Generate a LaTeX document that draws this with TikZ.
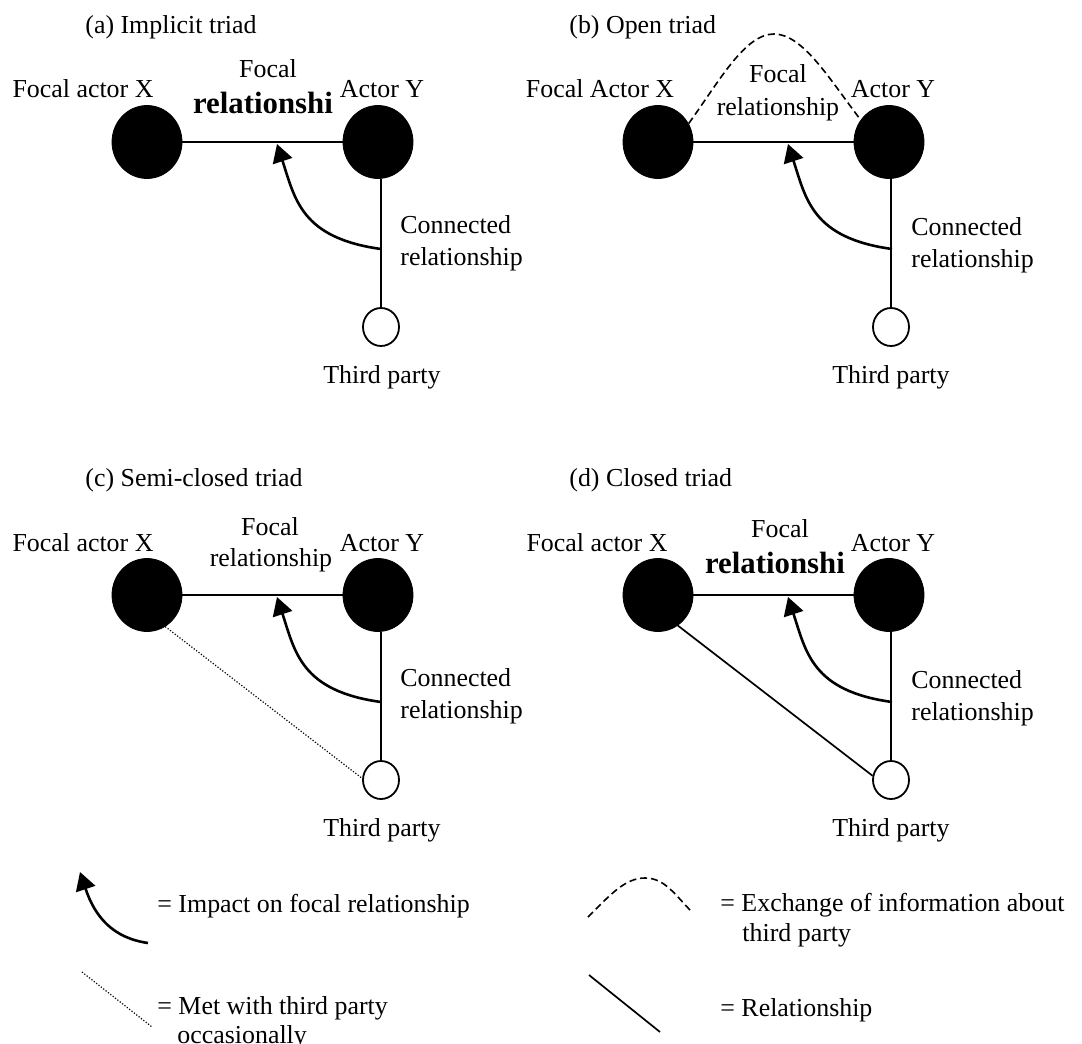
\documentclass[tikz,border=0pt]{standalone}
\usepackage{fontspec}
\setmainfont{Liberation Serif}
\usetikzlibrary{arrows.meta,shapes.geometric}

\begin{document}
\begin{tikzpicture}[x=0.5pt,y=-0.5pt,
  actor/.style={ellipse,fill=black,draw=black,minimum width=35pt,minimum height=36.5pt,inner sep=0pt},
  party/.style={ellipse,fill=white,draw=black,line width=0.9pt,minimum width=18pt,minimum height=19pt,inner sep=0pt},
  lbl/.style={font=\fontsize{12.95}{15}\selectfont,inner sep=0pt,anchor=base},
  lblw/.style={lbl,anchor=base west},
  boldlbl/.style={font=\fontsize{15.4}{18}\selectfont\bfseries,inner sep=0pt,anchor=base},
  tie/.style={line width=0.85pt},
  impact/.style={line width=1.3pt,-{Triangle[length=9pt,width=10pt]}},
  info/.style={line width=0.8pt,dash pattern=on 3.5pt off 2pt},
  met/.style={line width=0.6pt,dash pattern=on 0.6pt off 0.9pt},
]
\useasboundingbox (0,0) rectangle (1082,1044);
\clip (0,0) rectangle (1082,1044);

% ---------- (a) Implicit triad ----------
\node[lblw] (ta) at (85,33) {(a) Implicit triad};
\node[actor] (aX) at (147,142) {};
\node[actor] (aY) at (378,142) {};
\node[party] (aT) at (381,327) {};
\draw[tie] (aX) -- (aY);
\draw[tie] (aT.north) -- (aT.north |- aY.south);
\coordinate (aS) at (381,249);
\coordinate (aA) at (277,144);
\draw[impact] (aS) .. controls +(-80,-11) and +(18,55) .. (aA);
\node[lbl] (aXl) at (83,97) {Focal actor X};
\node[lbl] (aYl) at (382,97) {Actor Y};
\node[lbl] (aF1) at (268,77) {Focal};
\node[boldlbl] (aF2) at (263,113) {relationshi};
\node[lblw] (aC1) at (400,233) {Connected};
\node[lblw] (aC2) at (400,265) {relationship};
\node[lbl] (aTl) at (382,383) {Third party};

% ---------- (b) Open triad ----------
\node[lblw] (tb) at (569,33) {(b) Open triad};
\node[actor] (bX) at (658,142) {};
\node[actor] (bY) at (889,142) {};
\node[party] (bT) at (891,327) {};
\draw[tie] (bX) -- (bY);
\draw[tie] (bT.north) -- (bT.north |- bY.south);
\coordinate (bS) at (892,249);
\coordinate (bA) at (788,144);
\draw[impact] (bS) .. controls +(-80,-11) and +(18,55) .. (bA);
\draw[info] (bX.31) .. controls (720,80) and (745,34) .. (774,34)
            .. controls (803,34) and (830,80) .. (bY.142);
\node[lbl] (bXl) at (600,97) {Focal Actor X};
\node[lbl] (bYl) at (893,97) {Actor Y};
\node[lbl] (bF1) at (778,82) {Focal};
\node[lbl] (bF2) at (778,115) {relationship};
\node[lblw] (bC1) at (911,235) {Connected};
\node[lblw] (bC2) at (911,267) {relationship};
\node[lbl] (bTl) at (891,383) {Third party};

% ---------- (c) Semi-closed triad ----------
\node[lblw] (tc) at (85,486) {(c) Semi-closed triad};
\node[actor] (cX) at (147,595) {};
\node[actor] (cY) at (378,595) {};
\node[party] (cT) at (381,780) {};
\draw[tie] (cX) -- (cY);
\draw[tie] (cT.north) -- (cT.north |- cY.south);
\coordinate (cS) at (381,702);
\coordinate (cA) at (277,597);
\draw[impact] (cS) .. controls +(-80,-11) and +(18,55) .. (cA);
\draw[met] (cX.-60) -- (cT.175);
\node[lbl] (cXl) at (83,551) {Focal actor X};
\node[lbl] (cYl) at (382,551) {Actor Y};
\node[lbl] (cF1) at (270,535) {Focal};
\node[lbl] (cF2) at (271,566) {relationship};
\node[lblw] (cC1) at (400,686) {Connected};
\node[lblw] (cC2) at (400,718) {relationship};
\node[lbl] (cTl) at (382,836) {Third party};

% ---------- (d) Closed triad ----------
\node[lblw] (td) at (569,486) {(d) Closed triad};
\node[actor] (dX) at (658,595) {};
\node[actor] (dY) at (889,595) {};
\node[party] (dT) at (891,780) {};
\draw[tie] (dX) -- (dY);
\draw[tie] (dT.north) -- (dT.north |- dY.south);
\coordinate (dS) at (892,702);
\coordinate (dA) at (788,597);
\draw[impact] (dS) .. controls +(-80,-11) and +(18,55) .. (dA);
\draw[tie] (dX.-57) -- (dT.167);
\node[lbl] (dXl) at (597,551) {Focal actor X};
\node[lbl] (dYl) at (893,551) {Actor Y};
\node[lbl] (dF1) at (780,537) {Focal};
\node[boldlbl] (dF2) at (775,573) {relationshi};
\node[lblw] (dC1) at (911,688) {Connected};
\node[lblw] (dC2) at (911,720) {relationship};
\node[lbl] (dTl) at (891,836) {Third party};

% ---------- key ----------
\coordinate (kA0) at (148,943);
\coordinate (kA1) at (80,872);
\draw[impact] (kA0) .. controls +(-35,-5) and +(15,45) .. (kA1);
\node[lblw] (kAl) at (157,912) {= Impact on focal relationship};

\coordinate (kM0) at (82,972);
\coordinate (kM1) at (152,1027);
\draw[met] (kM0) -- (kM1);
\node[lblw] (kMl) at (157,1014) {= Met with third party};
\node[lblw] (kMl2) at (177,1043) {occasionally};

\coordinate (kI0) at (588,917);
\coordinate (kI1) at (645,878);
\coordinate (kI2) at (692,912);
\draw[info] (kI0) .. controls +(22,-22) and +(-20,0) .. (kI1)
            .. controls +(20,0) and +(-17,-17) .. (kI2);
\node[lblw] (kIl) at (720,911) {= Exchange of information about};
\node[lblw] (kIl2) at (742,941) {third party};

\coordinate (kR0) at (589,975);
\coordinate (kR1) at (660,1032);
\draw[tie] (kR0) -- (kR1);
\node[lblw] (kRl) at (720,1016) {= Relationship};
\end{tikzpicture}
\end{document}
